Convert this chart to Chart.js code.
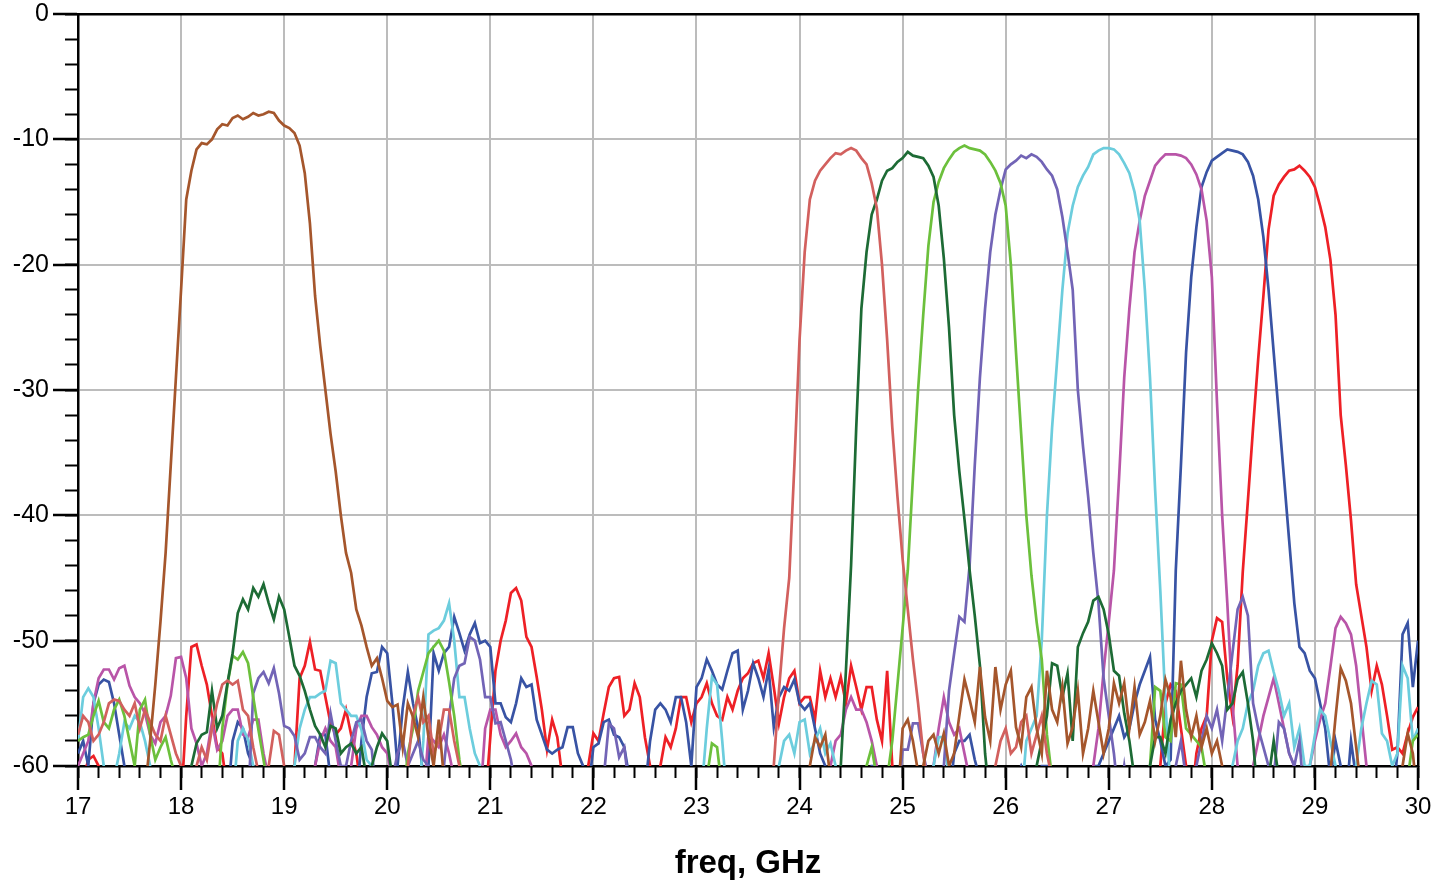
<!DOCTYPE html>
<html>
<head>
<meta charset="utf-8">
<script src="https://cdn.jsdelivr.net/npm/chart.js@4/dist/chart.umd.min.js"></script>
<style>
html,body{margin:0;padding:0;background:#ffffff;}
#wrap{width:1434px;height:881px;position:relative;}
</style>
</head>
<body>
<div id="wrap"><canvas id="c" width="1434" height="881"></canvas></div>
<script>
// ---- axis / category data ----
const xTitle = 'freq, GHz';
const freq = [
17.00,17.05,17.10,17.15,17.20,17.25,17.30,17.35,17.40,17.45,17.50,17.55,17.60,17.65,17.70,17.75,17.80,17.85,17.90,17.95,
18.00,18.05,18.10,18.15,18.20,18.25,18.30,18.35,18.40,18.45,18.50,18.55,18.60,18.65,18.70,18.75,18.80,18.85,18.90,18.95,
19.00,19.05,19.10,19.15,19.20,19.25,19.30,19.35,19.40,19.45,19.50,19.55,19.60,19.65,19.70,19.75,19.80,19.85,19.90,19.95,
20.00,20.05,20.10,20.15,20.20,20.25,20.30,20.35,20.40,20.45,20.50,20.55,20.60,20.65,20.70,20.75,20.80,20.85,20.90,20.95,
21.00,21.05,21.10,21.15,21.20,21.25,21.30,21.35,21.40,21.45,21.50,21.55,21.60,21.65,21.70,21.75,21.80,21.85,21.90,21.95,
22.00,22.05,22.10,22.15,22.20,22.25,22.30,22.35,22.40,22.45,22.50,22.55,22.60,22.65,22.70,22.75,22.80,22.85,22.90,22.95,
23.00,23.05,23.10,23.15,23.20,23.25,23.30,23.35,23.40,23.45,23.50,23.55,23.60,23.65,23.70,23.75,23.80,23.85,23.90,23.95,
24.00,24.05,24.10,24.15,24.20,24.25,24.30,24.35,24.40,24.45,24.50,24.55,24.60,24.65,24.70,24.75,24.80,24.85,24.90,24.95,
25.00,25.05,25.10,25.15,25.20,25.25,25.30,25.35,25.40,25.45,25.50,25.55,25.60,25.65,25.70,25.75,25.80,25.85,25.90,25.95,
26.00,26.05,26.10,26.15,26.20,26.25,26.30,26.35,26.40,26.45,26.50,26.55,26.60,26.65,26.70,26.75,26.80,26.85,26.90,26.95,
27.00,27.05,27.10,27.15,27.20,27.25,27.30,27.35,27.40,27.45,27.50,27.55,27.60,27.65,27.70,27.75,27.80,27.85,27.90,27.95,
28.00,28.05,28.10,28.15,28.20,28.25,28.30,28.35,28.40,28.45,28.50,28.55,28.60,28.65,28.70,28.75,28.80,28.85,28.90,28.95,
29.00,29.05,29.10,29.15,29.20,29.25,29.30,29.35,29.40,29.45,29.50,29.55,29.60,29.65,29.70,29.75,29.80,29.85,29.90,29.95,
30.00];

// ---- series values (dB); -63 = below the -60 floor ----
const sBrown = [
-63,-63,-63,-63,-63,-63,-63,-63,-63,-63,-63,-63,-63,-62,-58,-53.5,-48.5,-43,-36,-29,
-22,-14.8,-12.5,-10.8,-10.3,-10.4,-10.0,-9.2,-8.8,-8.9,-8.3,-8.1,-8.4,-8.2,-7.9,-8.1,-8.0,-7.8,-7.9,-8.5,
-8.9,-9.1,-9.5,-10.5,-12.7,-16.7,-22.5,-26.5,-30,-33.5,-36.5,-40,-43,-44.6,-47.5,-48.8,-50.5,-52,-51.4,-53,
-54.8,-55.3,-55.1,-58.5,-55,-56.1,-57.7,-54.5,-57.7,-60,-56.3,-61,-63,-63,-63,-63,-63,-63,-63,-63,
-63,-63,-63,-63,-63,-63,-63,-63,-63,-63,-63,-63,-63,-63,-63,-63,-63,-63,-63,-63,
-63,-63,-63,-63,-63,-63,-63,-63,-63,-63,-63,-63,-63,-63,-63,-63,-63,-63,-63,-63,
-63,-63,-63,-63,-63,-63,-63,-63,-63,-63,-63,-63,-63,-63,-63,-63,-63,-63,-63,-63,
-63,-63,-60,-57.7,-58.5,-57.5,-61,-63,-63,-63,-63,-63,-63,-63,-63,-63,-63,-63,-63,-63,
-57,-56.3,-58,-60.5,-60,-58,-57.5,-59,-57.4,-60,-59,-56,-53.1,-54.7,-56.5,-52.1,-56.1,-58,-52.1,-55.5,
-53.5,-52.4,-56.9,-58.5,-54.5,-53.7,-57,-59,-52.4,-55.5,-56.5,-53.7,-58.2,-56.9,-54,-59,-57,-54,-56.5,-59,
-57,-53.4,-55,-53.4,-57,-53.7,-57.5,-56.5,-54.8,-58,-56,-53.1,-54.5,-57.7,-51.6,-55.5,-57.7,-56,-58.5,-57,
-59,-58,-60,-62,-63,-63,-63,-63,-63,-63,-63,-63,-63,-63,-63,-63,-63,-63,-63,-63,
-63,-63,-63,-60.5,-56.1,-52.2,-53.2,-55,-58.5,-62,-63,-63,-63,-63,-63,-63,-63,-60,-57.4,-59,
-63];

const sSalmon = [
-57.5,-56,-56.5,-58,-57.5,-56.5,-55,-54.7,-54.8,-55.5,-56,-55,-57,-55.5,-56.5,-57.5,-58,-56,-57.5,-59,
-60,-62,-63,-60,-58.5,-59.5,-57,-55,-53.5,-53.2,-53.5,-53.2,-55.5,-56,-58.5,-60.5,-63,-60,-57.2,-57.5,
-60,-62,-63,-63,-63,-63,-63,-63,-63,-63,-63,-63,-63,-63,-63,-63,-63,-63,-63,-63,
-63,-63,-63,-63,-60,-56,-54.5,-56.5,-56,-59,-58,-55.5,-55.5,-58,-60,-62,-63,-63,-63,-63,
-63,-63,-63,-63,-63,-63,-63,-63,-63,-63,-63,-63,-63,-63,-63,-63,-63,-63,-63,-63,
-63,-63,-63,-63,-63,-63,-63,-63,-63,-63,-63,-63,-63,-63,-63,-63,-63,-63,-63,-63,
-63,-63,-63,-63,-63,-63,-63,-63,-63,-63,-63,-63,-63,-63,-63,-60,-54,-49,-45,-36,
-26,-19,-14.8,-13.3,-12.5,-12.0,-11.5,-11.1,-11.2,-10.9,-10.7,-10.9,-11.5,-12,-13.5,-15.5,-20,-26,-33,-38.5,
-43.5,-47.5,-51.5,-55,-59,-62,-63,-63,-63,-63,-63,-63,-63,-63,-63,-63,-63,-63,-60,-58,
-57,-59,-58.5,-56.5,-56,-59,-57.5,-56,-59,-61,-63,-63,-63,-63,-63,-63,-63,-63,-63,-63,
-63,-63,-63,-63,-63,-63,-63,-63,-63,-63,-63,-63,-63,-63,-63,-63,-63,-63,-63,-63,
-63,-63,-63,-63,-63,-63,-63,-63,-63,-63,-63,-63,-63,-63,-63,-63,-63,-63,-63,-63,
-63,-63,-63,-63,-63,-63,-63,-63,-63,-63,-63,-63,-63,-63,-63,-63,-63,-63,-63,-63,
-63];

const sDarkGreen = [
-63,-63,-63,-63,-63,-63,-63,-63,-63,-63,-63,-63,-63,-63,-63,-63,-63,-63,-63,-63,
-63,-63,-60,-58.2,-57.5,-57.3,-54,-57,-56,-53.4,-51,-47.8,-46.7,-47.5,-45.8,-46.5,-45.5,-47,-48.3,-46.5,
-47.5,-49.7,-52,-52.8,-54,-55.5,-56.8,-57.5,-58.5,-56.8,-57,-59,-58.5,-58.2,-59,-58.5,-61,-60,-58.5,-57.4,
-58,-61,-63,-63,-63,-63,-63,-63,-63,-63,-63,-63,-63,-63,-63,-63,-63,-63,-63,-63,
-63,-63,-63,-63,-63,-63,-63,-63,-63,-63,-63,-63,-63,-63,-63,-63,-63,-63,-63,-63,
-63,-63,-63,-63,-63,-63,-63,-63,-63,-63,-63,-63,-63,-63,-63,-63,-63,-63,-63,-63,
-63,-63,-63,-63,-63,-63,-63,-63,-63,-63,-63,-63,-63,-63,-63,-63,-63,-63,-63,-63,
-63,-63,-63,-63,-63,-63,-63,-63,-60,-52.4,-44,-33,-23.5,-19,-16,-14.8,-13.3,-12.5,-12.3,-11.8,
-11.5,-11.0,-11.3,-11.4,-11.5,-12.1,-13,-15.3,-19.5,-25,-32,-36.5,-40.3,-44.4,-48,-52,-59,-63,-63,-63,
-63,-63,-63,-63,-63,-63,-60,-58,-56,-51.8,-52,-54.5,-52.6,-58,-50.5,-49.4,-48.5,-46.8,-46.5,-47.5,
-49.5,-52.4,-52.8,-55.8,-58,-61,-63,-61,-60,-57.7,-57.7,-59,-56.3,-55,-54,-53.5,-53,-54.5,-52.4,-51.5,
-50.2,-51,-52,-55.5,-55,-53.1,-52.5,-55,-58,-63,-63,-61,-58,-61,-63,-63,-63,-63,-63,-63,
-63,-63,-63,-63,-63,-63,-63,-63,-63,-63,-63,-63,-63,-63,-63,-63,-63,-63,-63,-63,
-63];

const sLightGreen = [
-58,-57.7,-57.5,-56,-54.8,-56.5,-57,-55.5,-54.7,-56,-58,-60,-55.5,-54.7,-57.5,-59.5,-58.5,-57.7,-59.5,-61,
-63,-63,-63,-63,-63,-63,-63,-63,-57,-53.5,-51.2,-51.5,-50.9,-51.8,-54.5,-57.1,-59.5,-62,-63,-63,
-63,-63,-63,-63,-63,-63,-63,-63,-63,-63,-63,-63,-63,-63,-63,-63,-63,-63,-63,-63,
-63,-63,-63,-63,-59,-57,-54,-52.5,-51,-50.5,-50,-50.8,-53.3,-56,-59.5,-62,-63,-63,-63,-63,
-63,-63,-63,-63,-63,-63,-63,-63,-63,-63,-63,-63,-63,-63,-63,-63,-63,-63,-63,-63,
-63,-63,-63,-63,-63,-63,-63,-63,-63,-63,-63,-63,-63,-63,-63,-63,-63,-63,-63,-63,
-63,-63,-61,-58.2,-58.5,-62,-63,-63,-63,-63,-63,-63,-63,-63,-63,-63,-63,-63,-63,-63,
-63,-63,-63,-63,-63,-63,-63,-63,-63,-63,-63,-63,-63,-60,-58.5,-61,-63,-61,-58,-53.5,
-49,-44.4,-37,-30,-24,-18.5,-15,-13.4,-12.3,-11.6,-11.0,-10.7,-10.5,-10.7,-10.8,-10.9,-11.2,-11.8,-12.5,-13.5,
-15.3,-20,-27,-33.5,-40,-44.8,-48.5,-51.5,-57.5,-61,-63,-63,-63,-63,-63,-63,-63,-63,-63,-63,
-63,-63,-63,-63,-63,-63,-63,-63,-60,-53.7,-54,-57.7,-58,-53.4,-53.5,-57,-57.5,-58,-58.5,-61,
-63,-63,-63,-63,-63,-63,-63,-63,-63,-63,-63,-63,-63,-63,-63,-63,-63,-63,-63,-63,
-63,-63,-63,-63,-63,-63,-63,-63,-63,-63,-63,-63,-63,-63,-63,-63,-63,-63,-61,-58,
-57.5];

const sPurple = [
-63,-63,-63,-63,-63,-63,-63,-63,-63,-63,-63,-63,-63,-63,-63,-63,-63,-63,-63,-63,
-63,-63,-63,-63,-63,-63,-63,-63,-63,-63,-63,-63,-63,-63,-54.2,-53,-52.5,-53.4,-52.2,-54.2,
-56.8,-57,-57.6,-59.5,-59,-57.7,-57.7,-58.5,-59,-55.8,-58,-60,-60,-58,-56.5,-56.3,-58,-58.7,-63,-63,
-63,-61,-59,-58,-60,-59,-58,-59.5,-60,-62,-63,-60,-56,-53,-52,-51.8,-49.7,-50,-51.5,-54.5,
-54.5,-56.6,-56.5,-58,-59.5,-62,-63,-63,-63,-63,-63,-63,-63,-63,-63,-63,-63,-63,-63,-63,
-63,-63,-61,-56.6,-57,-59.3,-58.5,-62,-63,-63,-63,-63,-63,-63,-63,-63,-63,-63,-63,-63,
-63,-63,-63,-63,-63,-63,-63,-63,-63,-63,-63,-63,-63,-63,-63,-63,-63,-63,-63,-63,
-63,-63,-63,-63,-63,-63,-63,-63,-63,-63,-63,-63,-63,-63,-63,-63,-63,-63,-63,-63,
-58.7,-58.7,-56.6,-56.6,-59,-61,-63,-61,-60,-54,-51,-48.1,-48.5,-44,-36,-29,-23.5,-19,-16,-14,
-12.4,-12,-11.7,-11.3,-11.5,-11.2,-11.4,-11.8,-12.4,-12.9,-14,-16.2,-19,-22,-30,-34.5,-38.5,-43,-47,-53,
-56,-59,-63,-60,-63,-63,-63,-61,-60,-61,-63,-63,-63,-60,-58,-61,-63,-60,-58,-56,
-57,-55.5,-58,-54.5,-51,-47.5,-46.5,-48,-55,-57,-58.5,-60,-61,-56.5,-57,-59,-60,-58,-63,-63,
-63,-63,-63,-63,-63,-63,-63,-63,-63,-63,-63,-63,-63,-63,-63,-63,-63,-63,-63,-63,
-63];

const sCyan = [
-58,-54.5,-53.8,-54.5,-57,-60,-63,-61,-59,-56.5,-57,-56,-56.5,-58,-60,-63,-63,-63,-63,-63,
-63,-63,-63,-63,-63,-63,-63,-63,-63,-63,-63,-58,-57,-57.9,-60,-62,-63,-63,-63,-63,
-63,-63,-60,-57,-55.5,-54.5,-54.5,-54.2,-54,-51.6,-51.8,-55,-55.5,-56,-56,-57.1,-59.5,-60,-63,-63,
-63,-63,-63,-63,-63,-63,-63,-58,-49.5,-49.2,-49,-48.4,-47,-50,-54.5,-54.5,-57,-59,-60,-63,
-63,-63,-63,-63,-63,-63,-63,-63,-63,-63,-63,-63,-63,-63,-63,-63,-63,-63,-63,-63,
-63,-63,-63,-63,-63,-63,-63,-63,-63,-63,-63,-63,-63,-63,-63,-63,-63,-63,-63,-63,
-63,-62,-57,-52.9,-53.5,-58,-63,-63,-63,-63,-63,-63,-63,-63,-63,-63,-60,-58,-57.5,-59,
-56.5,-56.3,-59,-58,-57,-59,-58.2,-60,-63,-63,-63,-63,-63,-63,-63,-63,-63,-63,-63,-63,
-63,-63,-63,-63,-63,-63,-60,-57.7,-57.7,-61,-63,-63,-63,-63,-63,-63,-63,-63,-63,-63,
-63,-63,-63,-63,-58,-57,-56,-50,-40,-33,-27.5,-22,-17.5,-15.3,-13.8,-12.9,-12.2,-11.2,-10.9,-10.7,
-10.7,-10.8,-11.2,-11.9,-12.7,-14.2,-16.5,-22,-29,-38,-46,-55,-62,-63,-63,-63,-63,-63,-63,-63,
-63,-63,-63,-63,-60,-58,-57,-55,-54,-52,-51,-50.8,-52.5,-54,-56,-55,-58.5,-57,-60,-60,
-57.5,-55.5,-56,-58,-60,-62,-63,-62,-60,-57,-55,-53.2,-53.5,-57.4,-58,-60,-59,-52,-53,-58,
-57];

const sMagenta = [
-60,-59,-58,-55,-53,-52.3,-52.3,-53.1,-52.2,-52,-53.6,-54.5,-55,-55.8,-57.5,-58.2,-56.5,-56,-54.4,-51.4,
-51.3,-53,-57,-58.2,-60,-59,-56.5,-58.7,-58,-56,-55.5,-55.5,-57.5,-57.7,-56.3,-56.3,-59,-61,-63,-63,
-63,-63,-63,-63,-63,-63,-60,-58,-57,-58,-58.5,-61,-63,-60,-57,-56,-56,-56.9,-57.5,-58.5,
-59,-61,-63,-63,-63,-63,-63,-63,-57.5,-58,-58.5,-57.5,-59,-61,-63,-63,-63,-63,-63,-57,
-55.5,-55.5,-57.5,-58.5,-58,-57.4,-58.5,-59,-60,-62,-63,-63,-63,-63,-63,-63,-63,-63,-63,-63,
-63,-63,-63,-63,-63,-63,-63,-63,-63,-63,-63,-63,-63,-63,-63,-63,-63,-63,-63,-63,
-63,-63,-63,-63,-63,-63,-63,-63,-63,-63,-63,-63,-63,-63,-63,-63,-63,-63,-63,-63,
-63,-63,-63,-63,-63,-63,-60,-58,-57.5,-55.5,-54.5,-55.5,-55.5,-56.5,-58,-60,-63,-63,-63,-63,
-63,-63,-63,-63,-63,-63,-60,-57,-54.5,-56.5,-57.5,-57,-59,-61,-63,-63,-63,-63,-63,-63,
-63,-63,-63,-63,-63,-63,-63,-63,-63,-63,-63,-63,-63,-63,-63,-63,-63,-60,-57,-52.4,
-48.5,-44.4,-37,-29,-23.5,-19,-16.5,-14.5,-13.3,-12.1,-11.6,-11.2,-11.2,-11.2,-11.3,-11.5,-12,-12.8,-14,-16.5,
-21,-31,-40,-47,-55,-60,-63,-63,-60,-58,-56,-54.5,-53,-55,-57,-59,-60,-62,-63,-60,
-58,-56.3,-55,-52.1,-49,-48.1,-48.6,-49.5,-52,-56,-60,-63,-63,-63,-63,-63,-63,-63,-63,-63,
-63];

const sBlue = [
-59,-58,-60,-55,-53.5,-53.1,-53.3,-55,-57.5,-60,-63,-63,-63,-63,-63,-63,-63,-63,-63,-63,
-63,-63,-63,-63,-63,-63,-63,-63,-63,-63,-58,-56.5,-57,-59,-60,-63,-63,-63,-63,-63,
-63,-63,-63,-63,-63,-63,-60,-57.5,-57.5,-61,-63,-63,-63,-63,-63,-58,-54.5,-52.6,-52.5,-50.5,
-51,-55,-60,-55.4,-52.5,-55,-57,-61,-60,-51,-52.4,-51,-50.5,-48.1,-49.4,-50.8,-49.5,-48.6,-50.2,-50,
-50.5,-55,-55,-56.1,-56.5,-55,-53,-53.7,-53.5,-56.3,-57.5,-58.7,-59,-58.7,-58.5,-56.9,-56.9,-59,-60,-62,
-58.5,-58.2,-56.5,-56.3,-57.5,-57.7,-58.5,-61,-63,-63,-62,-58,-55.5,-55,-55.5,-56.5,-54.5,-54.5,-56.5,-60,
-53.7,-53,-51.5,-52.4,-53.5,-53.9,-52.4,-51,-50.8,-55.5,-54,-51.8,-53,-54.5,-52.3,-56.9,-54.5,-53.7,-54,-53.1,
-55,-55.5,-55,-57,-59,-60,-63,-63,-63,-63,-63,-63,-63,-63,-60,-60,-63,-63,-63,-63,
-63,-63,-63,-63,-63,-63,-63,-63,-63,-63,-59,-58,-58,-57.5,-59.5,-61,-63,-63,-63,-63,
-63,-63,-61,-60,-61,-63,-63,-60,-60,-63,-63,-63,-63,-63,-63,-63,-63,-60,-60,-59,
-58,-57,-56,-57.7,-57,-55,-53.5,-52.4,-51.3,-56.3,-58,-60,-59.5,-44.4,-36,-27,-21,-17,-13.8,-12.6,
-11.7,-11.4,-11.1,-10.8,-10.9,-11.0,-11.2,-11.8,-12.9,-14.8,-17.8,-22,-27,-32,-37,-42,-47,-50.5,-51,-52.4,
-53,-55,-57,-61,-58,-60,-63,-58,-61,-63,-63,-63,-63,-63,-63,-63,-59,-49.5,-48.6,-53.7,
-50];

const sRed = [
-63,-61,-59.5,-59.2,-60,-62,-63,-63,-63,-63,-63,-63,-63,-63,-63,-63,-63,-63,-63,-63,
-63,-56,-50.5,-50.3,-52,-53.5,-56,-58.5,-59,-62,-63,-63,-63,-63,-63,-63,-63,-63,-63,-63,
-63,-63,-60,-53,-52,-50.1,-52.3,-52.4,-54.5,-56.6,-57.5,-57,-55.5,-57.5,-59,-62,-63,-63,-63,-63,
-63,-63,-63,-63,-63,-63,-63,-63,-63,-63,-63,-63,-63,-63,-63,-63,-63,-63,-63,-63,
-57.7,-52.4,-50,-48.4,-46.2,-45.8,-46.8,-49.7,-50.5,-52.9,-55.5,-58.7,-56.3,-57.7,-61,-63,-63,-63,-63,-60,
-57.4,-58,-55.8,-53.7,-53,-52.9,-56,-55.5,-53.4,-54.5,-57.7,-60,-61,-60,-57.7,-58.5,-57,-54.5,-54.5,-56.5,
-55,-54.5,-53.4,-55,-56,-56.3,-54.5,-55.5,-54,-53,-52.6,-51.8,-51.6,-53,-51,-53.7,-56.6,-54.5,-53,-52.4,
-55,-54.5,-54.5,-56.3,-52.4,-54.5,-53,-54.5,-52.9,-55,-52,-53.7,-55.5,-53.7,-53.7,-56.3,-58,-52.4,-60,-63,
-63,-63,-63,-63,-63,-63,-63,-63,-63,-63,-63,-63,-63,-63,-63,-63,-63,-63,-63,-63,
-63,-63,-63,-63,-63,-63,-63,-63,-63,-63,-63,-63,-63,-63,-63,-63,-63,-63,-63,-63,
-63,-63,-63,-63,-63,-63,-63,-63,-63,-63,-60,-55,-53.5,-54,-57,-60,-63,-59,-57,-56,
-50,-48.2,-48.5,-53,-56,-52,-44.5,-38.8,-33,-27.5,-22.5,-17.2,-14.5,-13.6,-13,-12.5,-12.4,-12.1,-12.5,-13,
-13.8,-15.3,-17,-19.6,-24,-32,-36,-40.4,-45.5,-48,-50.5,-54,-52,-53.5,-56,-58.7,-58.5,-59,-57.4,-56.1,
-55.3];

const seriesList = [
  {name:'brown', values:sBrown, color:'#a5562c'},
  {name:'salmon', values:sSalmon, color:'#d2605e'},
  {name:'darkgreen', values:sDarkGreen, color:'#1d6b35'},
  {name:'lightgreen', values:sLightGreen, color:'#6cc03c'},
  {name:'purple', values:sPurple, color:'#7264b6'},
  {name:'cyan', values:sCyan, color:'#6ccddd'},
  {name:'magenta', values:sMagenta, color:'#b955a8'},
  {name:'blue', values:sBlue, color:'#3853a4'},
  {name:'red', values:sRed, color:'#ee2026'}
];

const FONT = "'Liberation Sans', Arial, Helvetica, sans-serif";

const datasets = seriesList.map(s => ({
  label: s.name,
  data: freq.map((f, i) => ({x: f, y: s.values[i]})),
  borderColor: s.color,
  backgroundColor: s.color,
  borderWidth: 2.7,
  pointRadius: 0,
  tension: 0,
  fill: false,
  xAxisID: 'x',
  yAxisID: 'y'
}));

new Chart(document.getElementById('c').getContext('2d'), {
  type: 'line',
  data: {datasets},
  options: {
    responsive: false,
    animation: false,
    devicePixelRatio: 1,
    layout: {padding: {top: 14, right: 16, bottom: 0, left: 0}},
    plugins: {legend: {display: false}, tooltip: {enabled: false}},
    scales: {
      x: {
        type: 'linear', position: 'bottom', min: 17, max: 30, weight: 0,
        ticks: {stepSize: 1, autoSkip: false, maxRotation: 0, color: '#000',
                font: {family: FONT, size: 24}, padding: 3},
        grid: {color: '#bcbcbc', lineWidth: 2, drawTicks: true, tickLength: 24,
               tickColor: '#000', tickWidth: 2.5},
        border: {display: true, color: '#000', width: 2.5},
        title: {display: true, text: xTitle, color: '#000',
                font: {family: FONT, size: 33, weight: 'bold'}, padding: {top: 0, bottom: -3}},
        afterFit: s => { s.height = 115; s.paddingLeft = 0; s.paddingRight = 0; }
      },
      xMinor: {
        type: 'linear', position: 'bottom', min: 17, max: 30, weight: -1,
        ticks: {display: false, stepSize: 0.2, maxTicksLimit: 100, autoSkip: false},
        grid: {drawOnChartArea: false, drawTicks: true, tickLength: 12, tickColor: '#000', tickWidth: 2},
        border: {display: false},
        afterFit: s => { s.height = 0; s.paddingLeft = 0; s.paddingRight = 0; }
      },
      xTop: {
        type: 'linear', position: 'top', min: 17, max: 30,
        ticks: {display: false},
        grid: {drawOnChartArea: false, drawTicks: false},
        border: {display: true, color: '#000', width: 2.5},
        afterFit: s => { s.height = 0; s.paddingLeft = 0; s.paddingRight = 0; }
      },
      y: {
        type: 'linear', position: 'left', min: -60, max: 0, weight: 0,
        ticks: {stepSize: 10, color: '#000', font: {family: FONT, size: 25}, padding: 4},
        grid: {color: '#bcbcbc', lineWidth: 2, drawTicks: true, tickLength: 25,
               tickColor: '#000', tickWidth: 2.5},
        border: {display: true, color: '#000', width: 2.5},
        afterFit: s => { s.width = 78; s.paddingTop = 0; s.paddingBottom = 0; }
      },
      yMinor: {
        type: 'linear', position: 'left', min: -60, max: 0, weight: -1,
        ticks: {display: false, stepSize: 2, maxTicksLimit: 100},
        grid: {drawOnChartArea: false, drawTicks: true, tickLength: 13, tickColor: '#000', tickWidth: 2},
        border: {display: false},
        afterFit: s => { s.width = 0; s.paddingTop = 0; s.paddingBottom = 0; }
      },
      yRight: {
        type: 'linear', position: 'right', min: -60, max: 0,
        ticks: {display: false},
        grid: {drawOnChartArea: false, drawTicks: false},
        border: {display: true, color: '#000', width: 2.5},
        afterFit: s => { s.width = 0; s.paddingTop = 0; s.paddingBottom = 0; }
      }
    }
  }
});
</script>
</body>
</html>
